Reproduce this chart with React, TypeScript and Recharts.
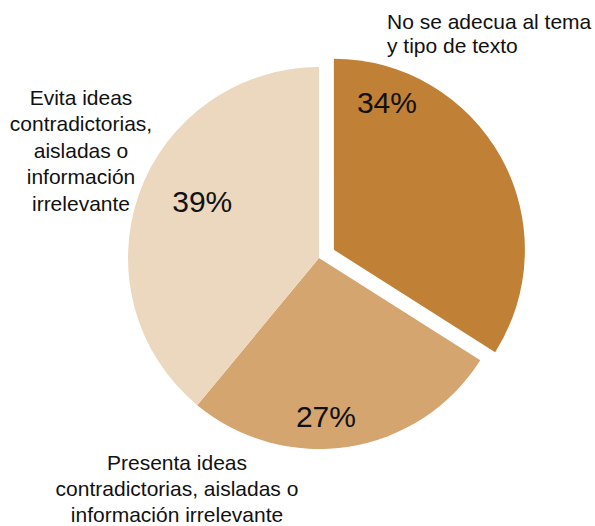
import React from 'react';
import { PieChart, Pie, Cell } from 'recharts';

const categories = [
  'No se adecua al tema y tipo de texto',
  'Presenta ideas contradictorias, aisladas o información irrelevante',
  'Evita ideas contradictorias, aisladas o información irrelevante',
];
const values = [34, 27, 39];
const colors = ['#C08035', '#D5A56F', '#ECD8BE'];

// label lines for the outside captions
const nameLines = [
  ['No se adecua al tema', 'y tipo de texto'],
  ['Presenta ideas', 'contradictorias, aisladas o', 'información irrelevante'],
  ['Evita ideas', 'contradictorias,', 'aisladas o', 'información', 'irrelevante'],
];

const data = categories.map((name, i) => ({ name, value: values[i] }));

const W = 595;
const H = 526;
const CX = 319;
const CY = 258;
const R = 191;
const EXPLODE = 17;
const RAD = Math.PI / 180;

// percent label placement: [angle offset from slice middle, radius fraction]
const pctPos = [
  { da: 41.4, rf: 0.82 },
  { da: -6.5, rf: 0.83 },
  { da: -6.2, rf: 0.68 },
];
// caption placement relative to pie centre: [dx, dy of first baseline, anchor]
const namePos: { dx: number; dy: number; anchor: 'start' | 'middle' }[] = [
  { dx: 68, dy: -229, anchor: 'start' },
  { dx: -142, dy: 212, anchor: 'middle' },
  { dx: -238, dy: -153, anchor: 'middle' },
];
const lineGap = [24, 26, 26.4];

const total = values.reduce((a, b) => a + b, 0);
const explodeMid = 90 - (360 * values[0]) / total / 2;
const EX = CX + EXPLODE * Math.cos(explodeMid * RAD);
const EY = CY - EXPLODE * Math.sin(explodeMid * RAD);

const FONT = '"Liberation Sans", Arial, Helvetica, sans-serif';

const makeLabel = (show: number[]) => (props: any) => {
  const { cx, cy, midAngle, outerRadius, index, value } = props;
  if (!show.includes(index)) return null;
  const p = pctPos[index];
  const a = (midAngle + p.da) * RAD;
  const x = cx + outerRadius * p.rf * Math.cos(a);
  const y = cy - outerRadius * p.rf * Math.sin(a);
  const n = namePos[index];
  return (
    <g>
      <text x={x} y={y} textAnchor="middle" dominantBaseline="central" fontSize={30} fill="#111" fontFamily={FONT}>
        {`${value}%`}
      </text>
      {nameLines[index].map((ln, k) => (
        <text
          key={k}
          x={CX + n.dx}
          y={CY + n.dy + k * lineGap[index]}
          textAnchor={n.anchor}
          fontSize={21}
          fill="#111"
          fontFamily={FONT}
        >
          {ln}
        </text>
      ))}
    </g>
  );
};

export default function App() {
  return (
    <div style={{ position: 'absolute', left: 0, top: 0, width: W, height: H, background: '#fff' }}>
      <PieChart width={W} height={H} margin={{ top: 0, right: 0, bottom: 0, left: 0 }}>
        <Pie
          data={data}
          dataKey="value"
          cx={CX}
          cy={CY}
          outerRadius={R}
          startAngle={90}
          endAngle={-270}
          stroke="none"
          label={makeLabel([1, 2])}
          labelLine={false}
          isAnimationActive={false}
        >
          {data.map((d, i) => (
            <Cell key={d.name} fill={i === 0 ? 'transparent' : colors[i]} />
          ))}
        </Pie>
        <Pie
          data={data}
          dataKey="value"
          cx={EX}
          cy={EY}
          outerRadius={R}
          startAngle={90}
          endAngle={-270}
          stroke="none"
          label={makeLabel([0])}
          labelLine={false}
          isAnimationActive={false}
        >
          {data.map((d, i) => (
            <Cell key={d.name} fill={i === 0 ? colors[0] : 'transparent'} />
          ))}
        </Pie>
      </PieChart>
    </div>
  );
}
